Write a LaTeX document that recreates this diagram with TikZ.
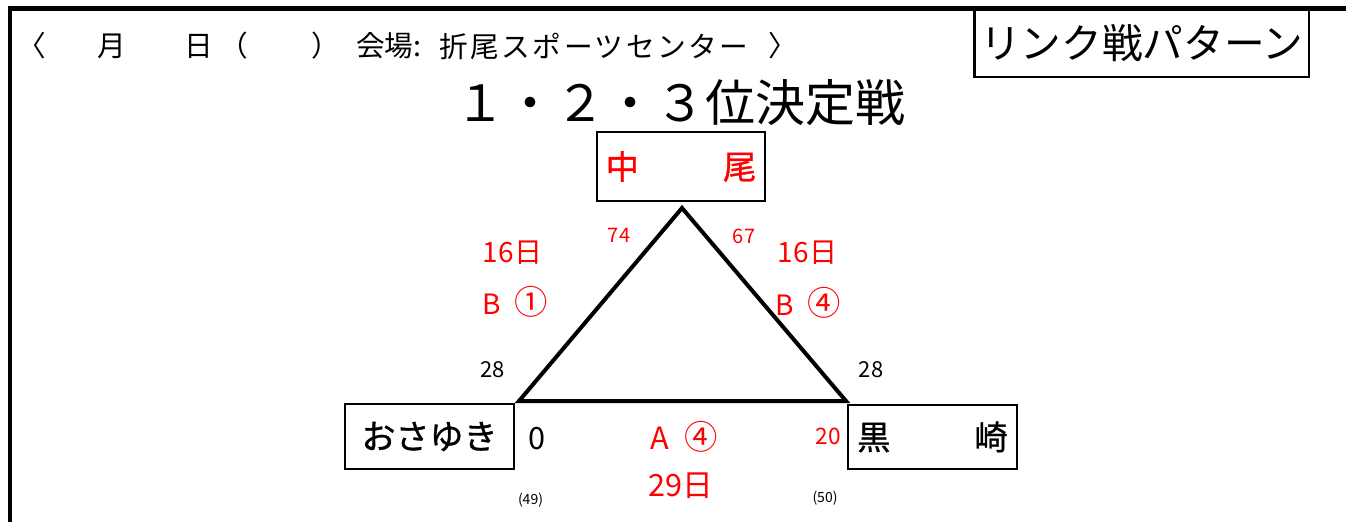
\documentclass[tikz,border=0pt]{standalone}
\usepackage{fontspec}
\setmainfont{Noto Sans CJK JP}
\usetikzlibrary{positioning}

\tikzset{
  teambox/.style={draw, line width=1.7pt, inner sep=0pt},
  teamfont/.style={font=\fontsize{25}{25}\selectfont\addfontfeature{FakeBold=1}},
  plain/.style={inner sep=0pt},
  redlabel/.style={plain, text=red},
  headfont/.style={font=\fontsize{21.5}{21.5}\selectfont},
}
\newcommand{\namepair}[3]{\makebox[#1]{#2\hfill #3}}
\newcommand{\circnum}[1]{{\fontsize{25}{25}\selectfont #1}}

\begin{document}
\begin{tikzpicture}[x=0.75pt,y=-0.75pt]
  \useasboundingbox (0,0) rectangle (1346,522);

  % Frame
  \draw[line width=3.4pt] (10,522) -- (10,8.5) -- (1346,8.5);

  % Header line
  \node[plain, headfont] (hopen) at (32,46) {〈};
  \node[plain, headfont] (hmonth) at (112,46) {月};
  \node[plain, headfont] (hday) at (199,46) {日};
  \node[plain, headfont] (hpopen) at (234,46) {（};
  \node[plain, headfont] (hpclose) at (326,46) {）};
  \node[plain, headfont, anchor=west] (hvenue) at (356,46) {会場:};
  \node[plain, headfont, anchor=west] (hplace) at (439,46)
    {\addfontfeature{LetterSpace=9}折尾スポーツセンター};
  \node[plain, headfont] (hclose) at (783,46) {〉};

  % Pattern box
  \node[teambox, minimum width=251pt, minimum height=50pt,
        font=\fontsize{30.5}{30.5}\selectfont] (pattern) at (1141.75,43.5) {リンク戦パターン};

  % Title
  \node[plain, font=\fontsize{37.5}{37.5}\selectfont] (title) at (680,103) {１・２・３位決定戦};

  % Teams
  \node[teambox, teamfont, minimum width=126pt, minimum height=51.75pt, text=red]
    (nakao) at (681,166.5) {\namepair{113pt}{中}{尾}};
  \node[teambox, teamfont, minimum width=126.75pt, minimum height=48.75pt]
    (osayuki) at (429.5,436.5) {\fontsize{25.5}{25.5}\selectfont おさゆき};
  \node[teambox, teamfont, minimum width=126.75pt, minimum height=48pt]
    (kurosaki) at (932.5,437) {\namepair{113pt}{黒}{崎}};

  % Triangle
  \coordinate (apex) at (682,208);
  \coordinate (cornerl) at (519,401);
  \coordinate (cornerr) at (846,401);
  \draw[line width=3pt] (apex) -- (cornerl) -- (cornerr) -- cycle;

  % Match labels
  \node[redlabel, font=\fontsize{21}{21}\selectfont] (dayl) at (512.5,252.5) {16日};
  \node[redlabel, font=\fontsize{21}{21}\selectfont] (matchl) at (515,301.5) {B\enspace\circnum{①}};
  \node[redlabel, font=\fontsize{21}{21}\selectfont] (dayr) at (807.5,252.5) {16日};
  \node[redlabel, font=\fontsize{21}{21}\selectfont] (matchr) at (808,302.5) {B\enspace\circnum{④}};
  \node[redlabel, font=\fontsize{23}{23}\selectfont] (matchb) at (684,437) {A\enspace\circnum{④}};
  \node[redlabel, font=\fontsize{23}{23}\selectfont] (dayb) at (681,486) {29日};

  % Scores
  \node[redlabel, font=\fontsize{15}{15}\selectfont] (scoretl) at (619,235.5) {74};
  \node[redlabel, font=\fontsize{15}{15}\selectfont] (scoretr) at (744,236) {67};
  \node[plain, font=\fontsize{16.5}{16.5}\selectfont] (scorel) at (492.5,370) {28};
  \node[plain, font=\fontsize{16.5}{16.5}\selectfont] (scorer) at (871,370) {28};
  \node[plain, font=\fontsize{23}{23}\selectfont] (scorebl) at (537,438.5) {0};
  \node[redlabel, font=\fontsize{17}{17}\selectfont] (scorebr) at (828,436.5) {20};
  \node[plain, font=\fontsize{10.5}{10.5}\selectfont] (numl) at (530.5,500) {(49)};
  \node[plain, font=\fontsize{10.5}{10.5}\selectfont] (numr) at (825,498) {(50)};
\end{tikzpicture}
\end{document}
